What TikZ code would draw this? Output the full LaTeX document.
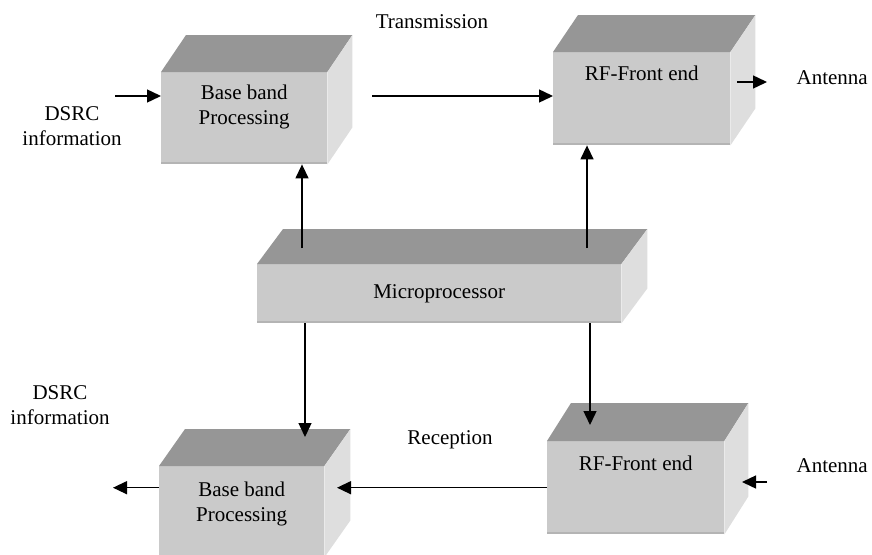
\documentclass[tikz,border=0pt]{standalone}
\usepackage{fontspec}
\setmainfont{Liberation Serif}
\usetikzlibrary{arrows.meta,positioning}
\definecolor{frontgray}{RGB}{202,202,202}
\definecolor{topgray}{RGB}{150,150,150}
\definecolor{sidegray}{RGB}{222,222,222}
\definecolor{edgegray}{RGB}{180,180,180}
\tikzset{
  front/.style={fill=frontgray, anchor=north west, inner sep=0pt},
  pfeil/.style={-{Triangle[length=14pt,width=13pt]}, line width=1.4pt},
  lbl/.style={align=center, inner sep=0pt, font=\fontsize{21}{25}\selectfont}
}
\begin{document}
\begin{tikzpicture}[x=1pt,y=-1pt]
    \useasboundingbox (0,0) rectangle (872,554);
    \clip (0,0) rectangle (872,554);

    % Vorderseiten der Bloecke
    \node[front, minimum width=166pt, minimum height=92pt] (bbT) at (161,72) {};
    \node[front, minimum width=177pt, minimum height=93pt] (rfT) at (553,52) {};
    \node[front, minimum width=364pt, minimum height=59pt] (mp) at (257,264) {};
    \node[front, minimum width=165pt, minimum height=91pt] (bbB) at (159,466) {};
    \node[front, minimum width=177pt, minimum height=93pt] (rfB) at (547,441) {};

    % Deckel und Seiten
    \foreach \b/\dx/\dy in {bbT/25/-37, rfT/25/-37, mp/26/-35, bbB/26/-37, rfB/24/-38} {
        \fill[topgray] (\b.north west) -- ++(\dx,\dy) -- ([shift={(\dx,\dy)}]\b.north east) -- (\b.north east) -- cycle;
        \fill[sidegray] (\b.north east) -- ++(\dx,\dy) -- ([shift={(\dx,\dy)}]\b.south east) -- (\b.south east) -- cycle;
        \draw[edgegray, line width=2pt] ([yshift=1pt]\b.south west) -- ([yshift=1pt]\b.south east);
    }

    % Beschriftung der Bloecke
    \node[lbl] (bbTt) at ([yshift=-35pt]bbT.north) {Base band\\Processing};
    \node[lbl] (rfTt) at ([yshift=-21pt]rfT.north) {RF-Front end};
    \node[lbl] (mpt) at (mp.center) {Microprocessor};
    \node[lbl] (bbBt) at ([yshift=-38pt]bbB.north) {Base band\\Processing};
    \node[lbl] (rfBt) at ([yshift=-22pt]rfB.north) {RF-Front end};

    % freie Beschriftungen
    \node[lbl] (dsrcT) at (72,126) {DSRC\\information};
    \node[lbl] (dsrcB) at (60,405) {DSRC\\information};
    \node[lbl] (trans) at (432,22) {Transmission};
    \node[lbl] (recep) at (450,440) {Reception};
    \node[lbl, anchor=east] (antT) at (868,78) {Antenna};
    \node[lbl, anchor=east] (antB) at (868,466) {Antenna};

    % Endpunkte
    \coordinate (inT) at (115,96);
    \coordinate (tx) at (372,96);
    \coordinate (antOut) at (737,82);
    \coordinate (upL) at (302,248);
    \coordinate (upR) at (587,248);
    \coordinate (downL) at (305,323);
    \coordinate (downR) at (590,323);
    \coordinate (antIn) at (767,482);

    % Pfeile
    \draw[pfeil] (inT) -- (inT -| bbT.west);
    \draw[pfeil] (tx) -- (tx -| rfT.west);
    \draw[pfeil] (antOut) -- ++(30,0);
    \draw[pfeil] (upL) -- (upL |- bbT.south);
    \draw[pfeil] (upR) -- (upR |- rfT.south);
    \draw[pfeil] (downL) -- ++(0,114);
    \draw[pfeil] (downR) -- ++(0,102);
    \draw[pfeil] (rfB.west) -- ++(-210,0);
    \draw[pfeil] (bbB.west |- rfB.west) -- ++(-46,0);
    \draw[pfeil] (antIn) -- ++(-25,0);
\end{tikzpicture}
\end{document}
